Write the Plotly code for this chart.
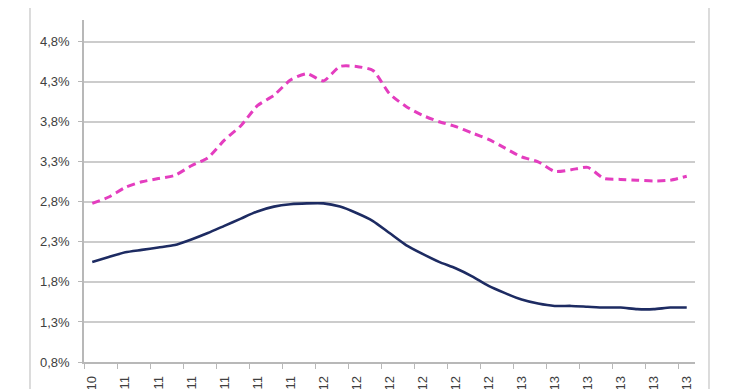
import plotly.graph_objects as go

months = ["dic-10", "ene-11", "feb-11", "mar-11", "abr-11", "may-11", "jun-11", "jul-11", "ago-11",
          "sep-11", "oct-11", "nov-11", "dic-11", "ene-12", "feb-12", "mar-12", "abr-12", "may-12",
          "jun-12", "jul-12", "ago-12", "sep-12", "oct-12", "nov-12", "dic-12", "ene-13", "feb-13",
          "mar-13", "abr-13", "may-13", "jun-13", "jul-13", "ago-13", "sep-13", "oct-13", "nov-13",
          "dic-13"]

pink_series = [2.78, 2.86, 2.98, 3.05, 3.09, 3.13, 3.25, 3.35, 3.57, 3.75, 4.00, 4.13, 4.32,
               4.40, 4.31, 4.49, 4.49, 4.44, 4.15, 3.99, 3.88, 3.80, 3.74, 3.66, 3.58, 3.47,
               3.36, 3.30, 3.18, 3.20, 3.23, 3.09, 3.08, 3.07, 3.06, 3.07, 3.12]

navy_series = [2.05, 2.11, 2.17, 2.20, 2.23, 2.26, 2.33, 2.41, 2.50, 2.59, 2.68, 2.74, 2.77,
               2.78, 2.78, 2.74, 2.66, 2.56, 2.41, 2.26, 2.15, 2.05, 1.97, 1.87, 1.75, 1.66,
               1.58, 1.53, 1.50, 1.50, 1.49, 1.48, 1.48, 1.46, 1.46, 1.48, 1.48]

y_ticks = [0.8, 1.3, 1.8, 2.3, 2.8, 3.3, 3.8, 4.3, 4.8]
y_tick_labels = ["0,8%", "1,3%", "1,8%", "2,3%", "2,8%", "3,3%", "3,8%", "4,3%", "4,8%"]

idx = list(range(len(months)))
label_idx = idx[::2]
label_text = months[::2]

fig = go.Figure()
fig.add_trace(go.Scatter(x=idx, y=pink_series, mode="lines",
                         line=dict(color="#e43dbf", width=3, dash="8px,5px", shape="spline", smoothing=0.6),
                         showlegend=False))
fig.add_trace(go.Scatter(x=idx, y=navy_series, mode="lines",
                         line=dict(color="#1d2b62", width=2.6, shape="spline", smoothing=0.6),
                         showlegend=False))

fig.update_layout(
    width=740, height=389,
    margin=dict(l=76, r=53, t=12, b=35),
    paper_bgcolor="white", plot_bgcolor="white",
    font=dict(family="Liberation Sans, Arial, sans-serif", size=13, color="#404040"),
    shapes=[dict(type="rect", xref="paper", yref="paper",
                 x0=-0.0884, x1=1.0229, y0=-0.3, y1=1.0409,
                 line=dict(color="#d0d0d0", width=1.5), layer="below")],
)

fig.update_xaxes(
    range=[-0.5, 36.5], tickmode="array", tickvals=label_idx, ticktext=label_text,
    tickangle=-90, ticks="", showgrid=False, zeroline=False,
    showline=True, linecolor="#b8b8b8", linewidth=1.5, automargin=False,
    tickfont=dict(size=13, color="#404040"), ticklabelstandoff=7,
    minor=dict(tick0=-0.5, dtick=2, ticks="outside", ticklen=5, tickcolor="#b8b8b8", tickwidth=1, showgrid=False),
)
fig.update_yaxes(
    range=[0.8, 5.07], tickmode="array", tickvals=y_ticks, ticktext=y_tick_labels,
    ticks="outside", ticklen=4, tickcolor="#b8b8b8", tickwidth=1,
    showgrid=True, gridcolor="#cccccc", gridwidth=1.5, zeroline=False,
    showline=True, linecolor="#b8b8b8", linewidth=1.5, automargin=False,
    tickfont=dict(size=13, color="#404040"),
    ticklabelstandoff=6,
)

fig.write_html("out.html")
